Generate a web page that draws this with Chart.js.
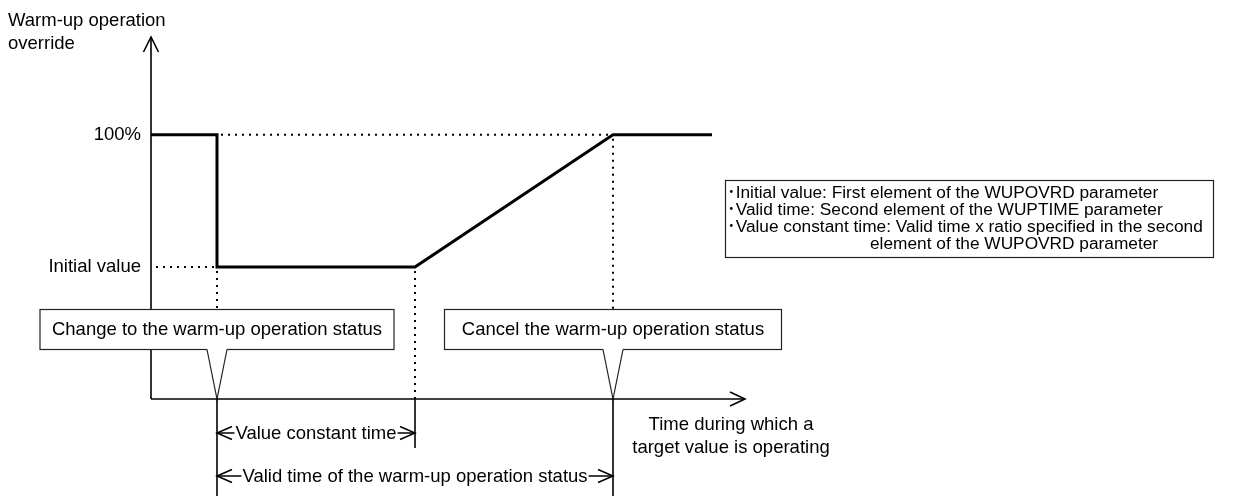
<!DOCTYPE html>
<html><head><meta charset="utf-8">
<script src="https://cdn.jsdelivr.net/npm/chart.js@4.4.1/dist/chart.umd.min.js"></script>
<style>html,body{margin:0;background:#fff}canvas{display:block}</style>
</head><body>
<canvas id="c" width="1260" height="496"></canvas>
<script>
// ============================================================
// DATA
// ============================================================
// time in arbitrary units, override in %
const timePts=[0,1,1,4,7,8.5];
const overridePct=[100,100,50,50,100,100];
const levelVals=[100,50];
const levelLabels=['100%','Initial value'];
const markTimes=[1,4,7]; // warm-up start, end of constant value, end of valid time
const yTitle=['Warm-up operation','override'];
const xTitle=['Time during which a','target value is operating'];
const calloutTimes=[1,7];
const calloutTexts=['Change to the warm-up operation status','Cancel the warm-up operation status'];
const spanFrom=[1,1];
const spanTo=[4,7];
const spanTexts=['Value constant time','Valid time of the warm-up operation status'];
const noteLines=['･Initial value: First element of the WUPOVRD parameter','･Valid time: Second element of the WUPTIME parameter','･Value constant time: Valid time x ratio specified in the second','element of the WUPOVRD parameter'];

// ============================================================
// STYLE
// ============================================================
const FF='"Liberation Sans", Arial, "Noto Sans CJK JP", sans-serif';
const F_MAIN='18.5px '+FF, F_NOTE='17.3px '+FF;
const CALLOUT_W=[355,338];

function seg(ctx,x1,y1,x2,y2){ctx.beginPath();ctx.moveTo(x1,y1);ctx.lineTo(x2,y2);ctx.stroke();}
function chev(ctx,x,y,dir,dx,dy){ // open arrow head, tip at x,y
  ctx.beginPath();ctx.moveTo(x-dir*dx,y-dy);ctx.lineTo(x,y);ctx.lineTo(x-dir*dx,y+dy);ctx.stroke();
}
function chevV(ctx,x,y,dx,dy){
  ctx.beginPath();ctx.moveTo(x-dx,y+dy);ctx.lineTo(x,y);ctx.lineTo(x+dx,y+dy);ctx.stroke();
}

const diagram={id:'diagram',
  beforeDatasetsDraw(ch){
    const {ctx,chartArea:a,scales:{x,y}}=ch;
    const xs=markTimes.map(t=>x.getPixelForValue(t));
    const y100=y.getPixelForValue(levelVals[0]), yIni=y.getPixelForValue(levelVals[1]);
    ctx.save();
    ctx.strokeStyle='#000';
    // dotted guides
    ctx.lineWidth=2;ctx.setLineDash([2,5]);
    seg(ctx,xs[0]+4,y100,xs[2],y100);
    seg(ctx,a.left+5,yIni,xs[0],yIni);
    seg(ctx,xs[0],yIni+4,xs[0],a.bottom);
    seg(ctx,xs[1],yIni+4,xs[1],a.bottom);
    seg(ctx,xs[2],y100+4,xs[2],a.bottom);
    ctx.setLineDash([]);
    // axes
    ctx.lineWidth=1.6;
    seg(ctx,a.left,a.top,a.left,a.bottom);
    seg(ctx,a.left,a.bottom,a.right,a.bottom);
    chevV(ctx,a.left,a.top,7.5,15);
    chev(ctx,a.right,a.bottom,1,15,7);
    ctx.restore();
  },
  afterDatasetsDraw(ch){
    const {ctx,chartArea:a,scales:{x,y}}=ch;
    const H=ch.height;
    const xs=markTimes.map(t=>x.getPixelForValue(t));
    ctx.save();
    ctx.fillStyle='#000';ctx.strokeStyle='#000';
    ctx.textBaseline='middle';
    // axis titles
    ctx.font=F_MAIN;ctx.textAlign='left';
    yTitle.forEach((s,i)=>ctx.fillText(s,8,21+i*23));
    ctx.textAlign='center';
    xTitle.forEach((s,i)=>ctx.fillText(s,a.right-14,425+i*23));
    // level labels
    ctx.textAlign='right';
    levelVals.forEach((v,i)=>ctx.fillText(levelLabels[i],a.left-10,y.getPixelForValue(v)));
    // callouts
    calloutTimes.forEach((t,i)=>{
      const cx=x.getPixelForValue(t), w=CALLOUT_W[i], top=309, bot=349;
      ctx.lineWidth=1.2;ctx.strokeStyle='#222';ctx.fillStyle='#fff';
      ctx.fillRect(cx-w/2,top,w,bot-top);
      ctx.strokeRect(cx-w/2+0.5,top+0.5,w-1,bot-top);
      ctx.beginPath();ctx.moveTo(cx-10,bot);ctx.lineTo(cx,a.bottom);ctx.lineTo(cx+10,bot);ctx.closePath();ctx.fill();
      ctx.fillRect(cx-9,bot-1,18,3);
      ctx.beginPath();ctx.moveTo(cx-10,bot+0.5);ctx.lineTo(cx,a.bottom);ctx.lineTo(cx+10,bot+0.5);ctx.stroke();
      ctx.fillStyle='#000';ctx.textAlign='center';ctx.font=F_MAIN;
      ctx.fillText(calloutTexts[i],cx,(top+bot)/2+1);
    });
    // extension lines below the time axis
    ctx.strokeStyle='#000';ctx.lineWidth=1.6;
    seg(ctx,xs[0],a.bottom,xs[0],H);
    seg(ctx,xs[1],a.bottom,xs[1],448);
    seg(ctx,xs[2],a.bottom,xs[2],H);
    // dimension rows
    const rowY=[433,476];
    spanTexts.forEach((s,i)=>{
      const x1=x.getPixelForValue(spanFrom[i]), x2=x.getPixelForValue(spanTo[i]), yy=rowY[i];
      ctx.lineWidth=1.5;
      seg(ctx,x1,yy,x2,yy);
      chev(ctx,x1,yy,-1,15,6.5);
      chev(ctx,x2,yy,1,15,6.5);
      ctx.font=F_MAIN;
      const tw=ctx.measureText(s).width, mx=(x1+x2)/2;
      ctx.fillStyle='#fff';ctx.fillRect(mx-tw/2-1,yy-11,tw+2,22);
      ctx.fillStyle='#000';ctx.textAlign='center';ctx.fillText(s,mx,yy+1);
    });
    // note box
    ctx.lineWidth=1.2;ctx.strokeStyle='#222';
    ctx.strokeRect(725.5,180.5,488,77);
    ctx.font=F_NOTE;ctx.textAlign='left';ctx.fillStyle='#000';
    noteLines.forEach((s,i)=>ctx.fillText(s,i===3?870:727,193+i*17));
    ctx.restore();
  }
};

new Chart(document.getElementById('c'),{
  type:'line',
  data:{datasets:[{
    data:timePts.map((t,i)=>({x:t,y:overridePct[i]})),
    borderColor:'#000',borderWidth:3,pointRadius:0,tension:0,fill:false,
    borderJoinStyle:'miter',borderCapStyle:'butt'
  }]},
  options:{
    responsive:false,animation:false,events:[],
    layout:{padding:{left:151,right:515,top:37,bottom:97}},
    scales:{
      x:{type:'linear',min:0,max:9,display:false},
      y:{min:0,max:137,display:false}
    },
    plugins:{legend:{display:false},tooltip:{enabled:false},title:{display:false}}
  },
  plugins:[diagram]
});
</script>
</body></html>
